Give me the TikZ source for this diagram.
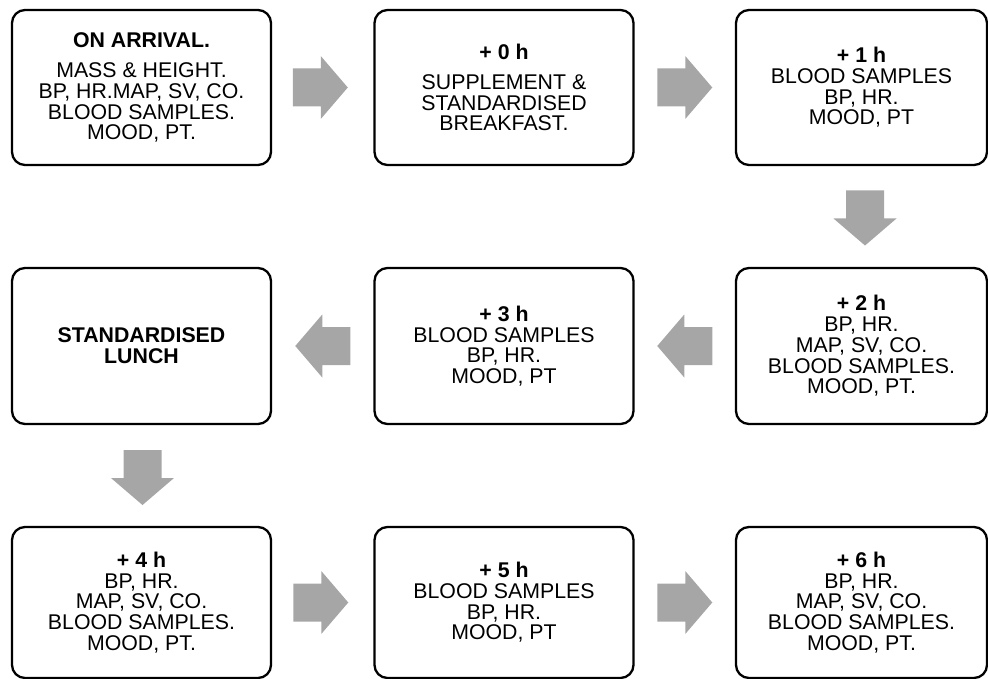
\documentclass[tikz,border=0pt]{standalone}
\usepackage{fontspec}
\setmainfont{Liberation Sans}
\usetikzlibrary{calc}
\definecolor{arrowgray}{RGB}{166,166,166}
\begin{document}
\begin{tikzpicture}[x=1pt,y=1pt,
  stage/.style={draw=black, line width=2.3pt, rounded corners=13pt,
    minimum width=259pt, minimum height=155pt, inner sep=0pt,
    align=center, font=\fontsize{21.3}{20.7}\selectfont},
  narrow/.style={minimum width=251pt},
  blockarrow/.pic={\fill[arrowgray] (-27.5,-19) -- (0.5,-19) -- (0.5,-31.5) -- (27.5,0)
     -- (0.5,31.5) -- (0.5,19) -- (-27.5,19) -- cycle;}]
\useasboundingbox (0,0) rectangle (988,-679);
% row 1
\node[stage] (b1) at (141.5,-87.5) {\textbf{ON ARRIVAL.}\\[9.5pt]MASS \& HEIGHT.\\BP, HR.MAP, SV, CO.\\BLOOD SAMPLES.\\MOOD, PT.};
\node[stage] (b2) at (504,-87.5) {\textbf{+ 0 h}\\[9.5pt]SUPPLEMENT \&\\STANDARDISED\\BREAKFAST.};
\node[stage,narrow] (b3) at (861.5,-87.5) {\textbf{+ 1 h}\\BLOOD SAMPLES\\BP, HR.\\MOOD, PT};
% row 2
\node[stage,minimum height=156pt] (b4) at (141.5,-346) {\textbf{STANDARDISED}\\\textbf{LUNCH}};
\node[stage,minimum height=156pt] (b5) at (504,-346) {\textbf{+ 3 h}\\BLOOD SAMPLES\\BP, HR.\\MOOD, PT};
\node[stage,narrow,minimum height=156pt] (b6) at (861.5,-346) {\textbf{+ 2 h}\\BP, HR.\\MAP, SV, CO.\\BLOOD SAMPLES.\\MOOD, PT.};
% row 3
\node[stage,minimum height=151pt] (b7) at (141.5,-602.5) {\textbf{+ 4 h}\\BP, HR.\\MAP, SV, CO.\\BLOOD SAMPLES.\\MOOD, PT.};
\node[stage,minimum height=151pt] (b8) at (504,-602.5) {\textbf{+ 5 h}\\BLOOD SAMPLES\\BP, HR.\\MOOD, PT};
\node[stage,narrow,minimum height=151pt] (b9) at (861.5,-602.5) {\textbf{+ 6 h}\\BP, HR.\\MAP, SV, CO.\\BLOOD SAMPLES.\\MOOD, PT.};
% block arrows
\pic at ($(b1.east)!0.5!(b2.west)+(-2.5,0)$) {blockarrow};
\pic at ($(b2.east)!0.5!(b3.west)$) {blockarrow};
\pic[rotate=-90] at ($(b3.south)!0.5!(b6.north)+(3.5,-1.5)$) {blockarrow};
\pic[rotate=180] at ($(b6.west)!0.5!(b5.east)$) {blockarrow};
\pic[rotate=180] at ($(b5.west)!0.5!(b4.east)$) {blockarrow};
\pic[rotate=-90] at ($(b4.south)!0.5!(b7.north)+(1,-2)$) {blockarrow};
\pic at ($(b7.east)!0.5!(b8.west)+(-2,0)$) {blockarrow};
\pic at ($(b8.east)!0.5!(b9.west)$) {blockarrow};
\end{tikzpicture}
\end{document}
